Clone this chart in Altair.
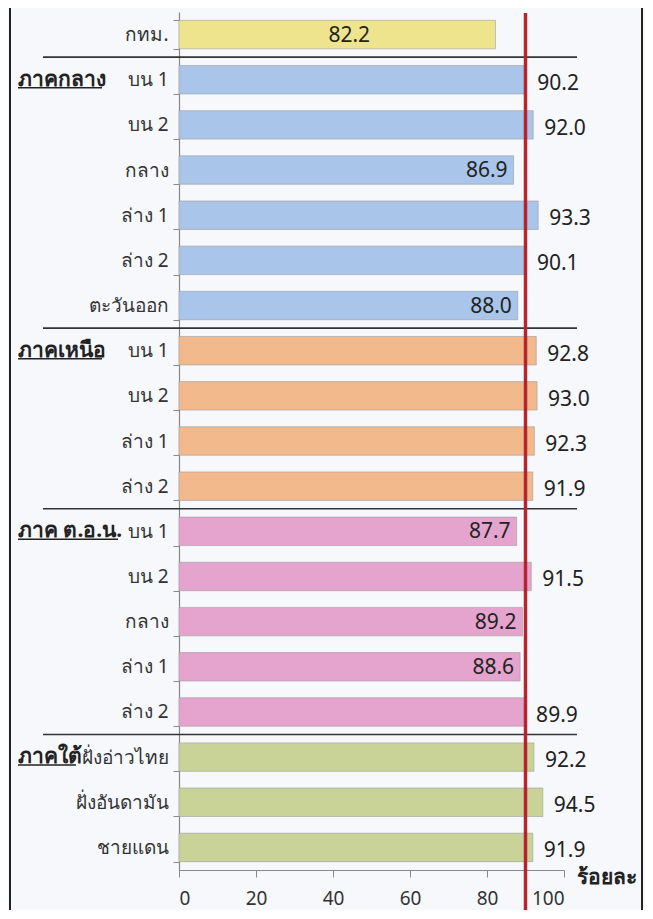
import altair as alt
import pandas as pd

# ---- data ----
labels = ["กทม.", "บน 1", "บน 2", "กลาง", "ล่าง 1", "ล่าง 2", "ตะวันออก",
          "บน 1", "บน 2", "ล่าง 1", "ล่าง 2",
          "บน 1", "บน 2", "กลาง", "ล่าง 1", "ล่าง 2",
          "ฝั่งอ่าวไทย", "ฝั่งอันดามัน", "ชายแดน"]
groups = (["กทม."] + ["ภาคกลาง"] * 6 + ["ภาคเหนือ"] * 4
          + ["ภาค ต.อ.น."] * 5 + ["ภาคใต้"] * 3)
values = [82.2, 90.2, 92.0, 86.9, 93.3, 90.1, 88.0,
          92.8, 93.0, 92.3, 91.9,
          87.7, 91.5, 89.2, 88.6, 89.9,
          92.2, 94.5, 91.9]
group_names = ["กทม.", "ภาคกลาง", "ภาคเหนือ", "ภาค ต.อ.น.", "ภาคใต้"]
group_colors = ["#efe48e", "#a9c5e9", "#f2b98c", "#e5a4cd", "#c9d297"]
target = [90]
x_ticks = [0, 20, 40, 60, 80, 100]
x_title = "ร้อยละ"

# ---- style ----
W, H = 385, 858
PI, PO = 0.37, 0.185
STEP = H / (len(labels) - PI + 2 * PO)
FONT = "Noto Sans"
BG = "#f6f8fc"

df = pd.DataFrame({"idx": list(range(len(labels))), "label": labels,
                   "group": groups, "v": values})
first_rows = [groups.index(g) for g in group_names[1:]]
gdf = pd.DataFrame({"idx": first_rows, "gname": group_names[1:]})
underline_w = {"ภาคกลาง": 84, "ภาคเหนือ": 84, "ภาค ต.อ.น.": 100, "ภาคใต้": 58}
gdf["w"] = gdf["gname"].map(underline_w)
gdf["x0"] = -161
gdf["x1"] = gdf["x0"] + gdf["w"]

label_arr = "[" + ",".join("'" + l + "'" for l in labels) + "]"

yenc = alt.Y("idx:O", sort=list(range(len(labels))),
             scale=alt.Scale(paddingInner=PI, paddingOuter=PO),
             axis=alt.Axis(title=None, labelExpr=label_arr + "[datum.value]",
                           tickBand="extent", tickSize=6, tickColor="#888",
                           domainColor="#888", domainWidth=1.2,
                           labelFont=FONT, labelFontSize=19, labelColor="#333",
                           labelPadding=5))

xscale = alt.Scale(domain=[0, 100])
xaxis = alt.Axis(values=x_ticks, grid=False, tickSize=7, tickColor="#888",
                 domainColor="#888", domainWidth=1.2, labelFont=FONT,
                 labelFontSize=19, labelColor="#333", labelPadding=12,
                 title=x_title, titleFont=FONT, titleFontSize=21,
                 titleFontWeight="bold", titleColor="#222", titleX=397,
                 titleY=13, titleAlign="left", titleBaseline="alphabetic",
                 titleAnchor="start")

base = alt.Chart(df)

bars = base.mark_bar(stroke="#999", strokeWidth=0.8, strokeOpacity=0.7).encode(
    x=alt.X("v:Q", scale=xscale, axis=xaxis),
    y=yenc,
    color=alt.Color("group:N", scale=alt.Scale(domain=group_names,
                                               range=group_colors), legend=None),
)

txt_style = dict(font=FONT, fontSize=21, color="#222")
out_lbl = base.transform_filter("datum.v >= 89.5").mark_text(
    align="left", baseline="middle", dx=11, dy=4, **txt_style).encode(
    x="v:Q", y=yenc, text=alt.Text("v:Q", format=".1f"))
in_lbl = base.transform_filter("datum.v >= 85 && datum.v < 89.5").mark_text(
    align="right", baseline="middle", dx=-6, dy=1, **txt_style).encode(
    x="v:Q", y=yenc, text=alt.Text("v:Q", format=".1f"))
ctr_lbl = base.transform_filter("datum.v < 85").transform_calculate(
    half="datum.v / 2").mark_text(
    align="center", baseline="middle", dx=12, dy=1, **txt_style).encode(
    x="half:Q", y=yenc, text=alt.Text("v:Q", format=".1f"))

seps = alt.Chart(gdf).mark_rule(color="#333", strokeWidth=1.6,
                                yOffset=-STEP / 2).encode(
    y=yenc, x=alt.value(-136), x2=alt.value(398))

gtext = alt.Chart(gdf).mark_text(align="left", baseline="alphabetic", dy=6,
                                 font=FONT, fontSize=21, color="#222",
                                 fontWeight="bold").encode(
    y=yenc, x=alt.value(-161), text="gname:N")
gline = alt.Chart(gdf).mark_rule(color="#222", strokeWidth=1.5,
                                 yOffset=8).encode(
    y=yenc, x=alt.X("x0:Q", scale=None), x2="x1:Q")

red = alt.Chart(pd.DataFrame({"t": target})).mark_rule(
    color="#b3262d", strokeWidth=3.5).encode(
    x=alt.X("t:Q", scale=xscale), y=alt.value(1), y2=alt.value(H + 60))

frame_df = pd.DataFrame({"x": [-169, 463]})
frame = alt.Chart(frame_df).mark_rule(color="#222", strokeWidth=2).encode(
    x=alt.X("x:Q", scale=None), y=alt.value(-20), y2=alt.value(H + 60))
pink = alt.Chart(pd.DataFrame({"x": [468]})).mark_rule(
    color="#e7a6cf", strokeWidth=1.5).encode(
    x=alt.X("x:Q", scale=None), y=alt.value(-20), y2=alt.value(H + 60))

chart = alt.layer(frame, pink, bars, seps, red, out_lbl, in_lbl, ctr_lbl,
                  gtext, gline).properties(
    width=W, height=H,
    autosize=alt.AutoSizeParams(type="none"),
    padding={"left": 171, "top": 4, "right": 81, "bottom": 40},
    background=BG,
).configure_view(stroke=None)

chart.save("out.html", embed_options={"renderer": "svg", "actions": False})
